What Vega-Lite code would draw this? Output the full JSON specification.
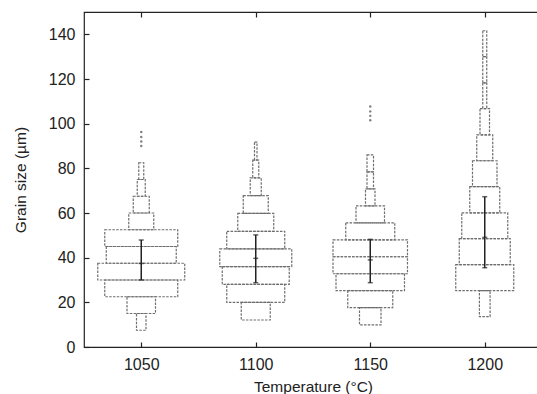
{
  "$schema": "https://vega.github.io/schema/vega-lite/v6.json",
  "width": 458,
  "height": 335,
  "autosize": "none",
  "padding": {"left": 84, "top": 12, "right": 0, "bottom": 47},
  "config": {
    "font": "Liberation Sans",
    "view": {"stroke": "#222", "strokeWidth": 1.2},
    "axis": {
      "grid": false,
      "domain": false,
      "tickSize": -5,
      "tickColor": "#222",
      "tickWidth": 1.2,
      "labelFontSize": 16,
      "labelColor": "#222",
      "titleFontSize": 15.5,
      "titleFontWeight": "normal",
      "titleColor": "#222"
    }
  },
  "datasets": {
    "bins": [
      {"temp": 1050, "lo": 7.5, "hi": 15.0, "count": 9.5},
      {"temp": 1050, "lo": 15.0, "hi": 22.5, "count": 28.5},
      {"temp": 1050, "lo": 22.5, "hi": 30.0, "count": 73},
      {"temp": 1050, "lo": 30.0, "hi": 37.5, "count": 87},
      {"temp": 1050, "lo": 37.5, "hi": 45.0, "count": 70},
      {"temp": 1050, "lo": 45.0, "hi": 52.5, "count": 73},
      {"temp": 1050, "lo": 52.5, "hi": 60.0, "count": 25},
      {"temp": 1050, "lo": 60.0, "hi": 67.5, "count": 16},
      {"temp": 1050, "lo": 67.5, "hi": 75.0, "count": 8},
      {"temp": 1050, "lo": 75.0, "hi": 82.5, "count": 5},
      {"temp": 1100, "lo": 12.1, "hi": 20.0, "count": 29},
      {"temp": 1100, "lo": 20.0, "hi": 28.0, "count": 58},
      {"temp": 1100, "lo": 28.0, "hi": 36.0, "count": 67},
      {"temp": 1100, "lo": 36.0, "hi": 43.9, "count": 72},
      {"temp": 1100, "lo": 43.9, "hi": 51.8, "count": 58},
      {"temp": 1100, "lo": 51.8, "hi": 59.8, "count": 36},
      {"temp": 1100, "lo": 59.8, "hi": 67.8, "count": 25},
      {"temp": 1100, "lo": 67.8, "hi": 75.7, "count": 11},
      {"temp": 1100, "lo": 75.7, "hi": 83.7, "count": 6},
      {"temp": 1100, "lo": 83.7, "hi": 91.7, "count": 2.5},
      {"temp": 1150, "lo": 9.9, "hi": 17.6, "count": 21.5},
      {"temp": 1150, "lo": 17.6, "hi": 25.2, "count": 45},
      {"temp": 1150, "lo": 25.2, "hi": 32.8, "count": 68.5},
      {"temp": 1150, "lo": 32.8, "hi": 40.4, "count": 74.5},
      {"temp": 1150, "lo": 40.4, "hi": 48.0, "count": 74.5},
      {"temp": 1150, "lo": 48.0, "hi": 55.6, "count": 49},
      {"temp": 1150, "lo": 55.6, "hi": 63.2, "count": 28.5},
      {"temp": 1150, "lo": 63.2, "hi": 70.8, "count": 9.5},
      {"temp": 1150, "lo": 70.8, "hi": 78.4, "count": 6.5},
      {"temp": 1150, "lo": 78.4, "hi": 86.0, "count": 6.5},
      {"temp": 1200, "lo": 13.6, "hi": 25.2, "count": 10.7},
      {"temp": 1200, "lo": 25.2, "hi": 36.9, "count": 58},
      {"temp": 1200, "lo": 36.9, "hi": 48.5, "count": 51},
      {"temp": 1200, "lo": 48.5, "hi": 60.1, "count": 46},
      {"temp": 1200, "lo": 60.1, "hi": 71.8, "count": 30},
      {"temp": 1200, "lo": 71.8, "hi": 83.4, "count": 24.5},
      {"temp": 1200, "lo": 83.4, "hi": 95.0, "count": 16},
      {"temp": 1200, "lo": 95.0, "hi": 106.7, "count": 9.5},
      {"temp": 1200, "lo": 106.7, "hi": 118.3, "count": 4},
      {"temp": 1200, "lo": 118.3, "hi": 130.0, "count": 4},
      {"temp": 1200, "lo": 130.0, "hi": 141.6, "count": 4}
    ],
    "stats": [
      {"temp": 1050, "lo": 30.0, "mid": 37.4, "hi": 47.9},
      {"temp": 1100, "lo": 28.8, "mid": 39.7, "hi": 50.2},
      {"temp": 1150, "lo": 28.8, "mid": 39.0, "hi": 48.2},
      {"temp": 1200, "lo": 35.5, "mid": 49.1, "hi": 67.3}
    ],
    "outliers": [
      {"temp": 1050, "value": 90.0},
      {"temp": 1050, "value": 92.0},
      {"temp": 1050, "value": 94.0},
      {"temp": 1050, "value": 96.3},
      {"temp": 1150, "value": 101.5},
      {"temp": 1150, "value": 103.5},
      {"temp": 1150, "value": 105.5},
      {"temp": 1150, "value": 107.7}
    ]
  },
  "layer": [
    {
      "data": {"name": "bins"},
      "transform": [
        {"calculate": "datum.temp - datum.count * 0.2183", "as": "x1"},
        {"calculate": "datum.temp + datum.count * 0.2183", "as": "x2"}
      ],
      "mark": {"type": "rect", "fill": "white", "fillOpacity": 0, "stroke": "#6e6e6e", "strokeWidth": 1.2, "strokeDash": [2.5, 1.3]},
      "encoding": {
        "x": {
          "field": "x1", "type": "quantitative",
          "scale": {"domain": [1025, 1225], "nice": false, "zero": false},
          "axis": {"values": [1050, 1100, 1150, 1200], "format": "d", "title": "Temperature (°C)", "labelPadding": 14, "titlePadding": 7}
        },
        "x2": {"field": "x2"},
        "y": {
          "field": "lo", "type": "quantitative",
          "scale": {"domain": [0, 150], "nice": false, "zero": false},
          "axis": {"values": [0, 20, 40, 60, 80, 100, 120, 140], "title": "Grain size (µm)", "labelPadding": 14, "titlePadding": 20}
        },
        "y2": {"field": "hi"}
      }
    },
    {
      "data": {"name": "outliers"},
      "mark": {"type": "point", "filled": true, "color": "#808080", "size": 6, "opacity": 1},
      "encoding": {
        "x": {"field": "temp", "type": "quantitative", "scale": {"domain": [1025, 1225], "nice": false, "zero": false}, "axis": null},
        "y": {"field": "value", "type": "quantitative", "scale": {"domain": [0, 150], "nice": false, "zero": false}, "axis": null}
      }
    },
    {
      "data": {"name": "stats"},
      "mark": {"type": "rule", "color": "#222", "strokeWidth": 1.5},
      "encoding": {
        "x": {"field": "temp", "type": "quantitative", "scale": {"domain": [1025, 1225], "nice": false, "zero": false}, "axis": null},
        "y": {"field": "lo", "type": "quantitative", "scale": {"domain": [0, 150], "nice": false, "zero": false}, "axis": null},
        "y2": {"field": "hi"}
      }
    },
    {
      "data": {"name": "stats"},
      "transform": [{"fold": ["lo", "mid", "hi"], "as": ["stat", "v"]}],
      "mark": {"type": "tick", "orient": "horizontal", "color": "#222", "size": 5, "thickness": 1.5},
      "encoding": {
        "x": {"field": "temp", "type": "quantitative", "scale": {"domain": [1025, 1225], "nice": false, "zero": false}, "axis": null},
        "y": {"field": "v", "type": "quantitative", "scale": {"domain": [0, 150], "nice": false, "zero": false}, "axis": null}
      }
    },
    {
      "data": {"name": "stats"},
      "mark": {"type": "point", "opacity": 0},
      "encoding": {
        "x": {"field": "temp", "type": "quantitative", "scale": {"domain": [1025, 1225], "nice": false, "zero": false},
              "axis": {"orient": "top", "values": [1050, 1100, 1150, 1200], "labels": false, "title": null}},
        "y": {"field": "mid", "type": "quantitative", "scale": {"domain": [0, 150], "nice": false, "zero": false},
              "axis": {"orient": "right", "values": [0, 20, 40, 60, 80, 100, 120, 140], "labels": false, "title": null}}
      }
    }
  ],
  "resolve": {"axis": {"x": "independent", "y": "independent"}}
}
